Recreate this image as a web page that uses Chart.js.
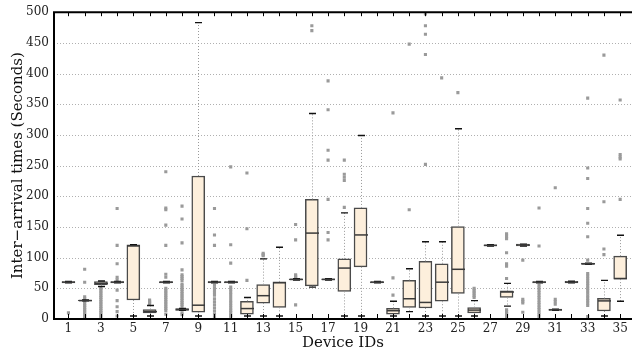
<!DOCTYPE html>
<html>
<head>
<meta charset="utf-8">
<script src="https://cdn.jsdelivr.net/npm/chart.js@4.4.1/dist/chart.umd.min.js"></script>
<style>
  html, body { margin: 0; padding: 0; background: #fff; }
  #wrap { width: 636px; height: 354px; }
</style>
</head>
<body>
<div id="wrap"><canvas id="boxChart" width="636" height="354"></canvas></div>
<script>
var devices = [1, 2, 3, 4, 5, 6, 7, 8, 9, 10, 11, 12, 13, 14, 15, 16, 17, 18, 19, 20,
  21, 22, 23, 24, 25, 26, 27, 28, 29, 30, 31, 32, 33, 34, 35];
var xTickLabels = [1, 3, 5, 7, 9, 11, 13, 15, 17, 19, 21, 23, 25, 27, 29, 31, 33, 35];
var yTicks = [0, 50, 100, 150, 200, 250, 300, 350, 400, 450, 500];

// box edges and median, one per device
var q1 = [59, 29.5, 56, 59, 31, 10, 59, 14, 11, 59, 59, 8, 26, 19, 63.5, 54, 63.5, 45, 85, 59,
  8, 19, 18, 29, 41.5, 10, 119, 35, 119, 59, 14, 59, 89, 13, 65];
var med = [60, 30, 58, 60, 119, 12, 60, 15.5, 22.5, 60, 60, 17, 38, 59, 64.5, 140, 64.5, 83, 137, 60,
  13.5, 33, 27, 60, 81, 14.5, 120, 44, 120.5, 60, 15, 60, 90, 29.5, 66];
var q3 = [61, 31, 61, 61, 121, 15.5, 61, 17, 233, 61, 61, 29, 56, 60.5, 65.5, 195, 65.5, 98, 181, 61,
  17.5, 63, 94, 90, 150.5, 18.5, 121, 46, 122, 61, 16, 61.5, 91, 33.5, 102.5];
var whiskerLow = [59, 29.5, 53, 59, 5, 5, 59, 14, 5, 59, 59, 5, 5, 5, 63.5, 52, 63.5, 5, 5, 59,
  5, 12, 5, 5, 5, 5, 119, 21, 119, 59, 14, 59, 89, 5, 29];
var whiskerHigh = [61, 31, 62, 61, 121, 22, 61, 17, 483, 61, 61, 35, 98, 117, 65.5, 335, 65.5, 173, 299, 61,
  29, 82, 126, 126, 310, 30, 121, 58, 122, 61, 16, 61.5, 91, 63, 136.5];

var outliers = [
  [10],
  [1, 4, 7, 10, 13, 16, 19, 22, 25, 28, 33, 36, 60, 81],
  [2, 5, 8, 11, 14, 17, 20, 23, 26, 29, 32, 35, 38, 41, 44, 47, 50],
  [180, 120, 90, 68, 64, 47, 30, 20, 12, 5],
  [],
  [25, 27, 29, 31],
  [240, 181, 178, 153, 120, 73, 68, 50, 47, 44, 41, 38, 35, 32, 29, 26, 23, 20, 17, 14, 8],
  [184, 163, 124, 80, 72, 69, 66, 63, 57, 54, 51, 48, 45, 42, 39, 36, 33, 30, 27, 24, 21, 10, 7],
  [],
  [180, 137, 120, 55, 51, 47, 43, 39, 33, 28, 23, 18, 13, 8, 3],
  [248, 121, 91, 52, 48, 44, 40, 35, 30, 26, 22, 18, 14, 10, 6, 3],
  [238, 147, 63],
  [103, 105, 107],
  [],
  [154, 129, 66, 68, 70, 72, 23],
  [478, 470],
  [388, 341, 275, 259, 195, 141, 129],
  [259, 236, 231, 226, 182],
  [],
  [],
  [336, 67, 39],
  [448, 178],
  [497, 478, 464, 431, 252],
  [393],
  [369],
  [35, 38, 41, 44, 47, 50],
  [],
  [139, 135, 131, 108, 90, 86, 66, 15, 12, 9, 6, 3],
  [96, 32, 29, 26, 11],
  [181, 119, 55, 51, 47, 43, 39, 35, 31, 27, 23, 19, 15, 11, 7, 3],
  [214, 32, 28, 24],
  [],
  [360, 246, 229, 180, 156, 134, 96, 74, 70, 66, 62, 58, 54, 50, 46, 42, 38, 34, 30, 26, 22, 4],
  [430, 191, 114, 105],
  [357, 268, 264, 261, 195]
];

var boxData = devices.map(function(d, i) {
  return { x: d, y: [q1[i], q3[i]] };
});
var outlierData = [];
for (var i = 0; i < devices.length; i++) {
  for (var j = 0; j < outliers[i].length; j++) {
    outlierData.push({ x: devices[i], y: outliers[i][j] });
  }
}

var serif = "'DejaVu Serif', 'Liberation Serif', serif";

var boxExtras = {
  id: 'boxExtras',
  beforeDatasetsDraw: function(chart) {
    var ctx = chart.ctx, a = chart.chartArea, ys = chart.scales.y;
    ctx.save();
    ctx.strokeStyle = '#b0b0b0';
    ctx.lineWidth = 1;
    ctx.setLineDash([1, 2]);
    yTicks.forEach(function(v) {
      if (v <= 0 || v >= 500) return;
      var y = Math.round(ys.getPixelForValue(v)) + 0.5;
      ctx.beginPath();
      ctx.moveTo(a.left, y);
      ctx.lineTo(a.right, y);
      ctx.stroke();
    });
    ctx.restore();
  },
  afterDatasetsDraw: function(chart) {
    var ctx = chart.ctx, xs = chart.scales.x, ys = chart.scales.y;
    ctx.save();
    for (var i = 0; i < devices.length; i++) {
      var x = Math.round(xs.getPixelForValue(devices[i])) + 0.5;
      var yq1 = ys.getPixelForValue(q1[i]), yq3 = ys.getPixelForValue(q3[i]);
      var ylo = ys.getPixelForValue(whiskerLow[i]), yhi = ys.getPixelForValue(whiskerHigh[i]);
      // whiskers
      ctx.strokeStyle = '#999';
      ctx.lineWidth = 1;
      ctx.setLineDash([1, 2]);
      ctx.beginPath();
      ctx.moveTo(x, yq3); ctx.lineTo(x, yhi);
      ctx.moveTo(x, yq1); ctx.lineTo(x, ylo);
      ctx.stroke();
      ctx.setLineDash([]);
      // caps
      ctx.strokeStyle = '#111';
      ctx.lineWidth = 1.4;
      ctx.beginPath();
      ctx.moveTo(x - 3.5, yhi); ctx.lineTo(x + 3.5, yhi);
      ctx.moveTo(x - 3.5, ylo); ctx.lineTo(x + 3.5, ylo);
      ctx.stroke();
      // median
      var ym = ys.getPixelForValue(med[i]);
      ctx.strokeStyle = '#3a3a3a';
      ctx.lineWidth = 1.5;
      ctx.beginPath();
      ctx.moveTo(x - 6.5, ym); ctx.lineTo(x + 6.5, ym);
      ctx.stroke();
    }
    ctx.restore();
  },
  afterDraw: function(chart) {
    var ctx = chart.ctx, a = chart.chartArea, xs = chart.scales.x;
    ctx.save();
    ctx.strokeStyle = '#000';
    ctx.lineWidth = 1;
    devices.forEach(function(d) {
      var x = Math.round(xs.getPixelForValue(d)) + 0.5;
      ctx.beginPath();
      ctx.moveTo(x, a.bottom); ctx.lineTo(x, a.bottom - 5);
      ctx.moveTo(x, a.top); ctx.lineTo(x, a.top + 4);
      ctx.stroke();
    });
    ctx.lineWidth = 2;
    ctx.beginPath();
    ctx.moveTo(a.right, a.top); ctx.lineTo(a.left, a.top);
    ctx.lineTo(a.left, a.bottom); ctx.lineTo(a.right, a.bottom);
    ctx.stroke();
    ctx.restore();
  }
};

var ctx = document.getElementById('boxChart');
var chart = new Chart(ctx, {
  type: 'bar',
  data: {
    datasets: [{
      type: 'bar',
      label: 'box',
      data: boxData,
      backgroundColor: '#fdefdc',
      borderColor: '#4a4a4a',
      borderWidth: 1.5,
      borderSkipped: false,
      barThickness: 13,
      order: 2
    }, {
      type: 'scatter',
      label: 'outliers',
      data: outlierData,
      pointStyle: 'rect',
      pointRadius: 2.2,
      backgroundColor: '#9a9a9a',
      borderWidth: 0,
      order: 1
    }]
  },
  options: {
    responsive: false,
    animation: false,
    layout: { padding: { top: 10, right: 0, left: 0, bottom: 0 } },
    plugins: { legend: { display: false }, tooltip: { enabled: false } },
    scales: {
      x: {
        type: 'linear',
        offset: false,
        min: 0.11,
        max: 35.73,
        grid: { display: false, drawTicks: false, offset: false },
        border: { display: false },
        afterBuildTicks: function(scale) {
          scale.ticks = xTickLabels.map(function(v) { return { value: v }; });
        },
        afterFit: function(scale) { scale.height = 35; },
        ticks: { color: '#222', padding: 3, font: { family: serif, size: 12 }, maxRotation: 0, autoSkip: false },
        title: { display: true, text: 'Device IDs', color: '#111', font: { family: serif, size: 15 }, padding: { top: 0, bottom: 2 } }
      },
      y: {
        min: 0,
        max: 500,
        grid: { display: false, drawTicks: false },
        border: { display: false },
        afterBuildTicks: function(scale) {
          scale.ticks = yTicks.map(function(v) { return { value: v }; });
        },
        afterFit: function(scale) { scale.width = 54; },
        ticks: { color: '#222', padding: 5, font: { family: serif, size: 12 } },
        title: { display: true, text: 'Inter\u2212arrival times (Seconds)', color: '#111', font: { family: serif, size: 15 }, padding: { top: 9, bottom: 0 } }
      }
    }
  },
  plugins: [boxExtras]
});
</script>
</body>
</html>
